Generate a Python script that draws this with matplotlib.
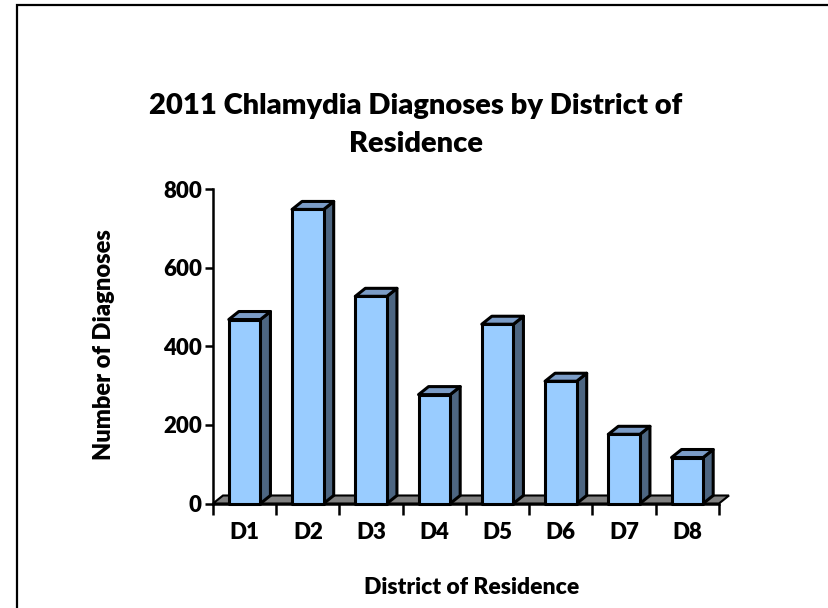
import matplotlib
matplotlib.use("Agg")
import matplotlib.pyplot as plt
from matplotlib.patches import Polygon, Rectangle

plt.rcParams["font.family"] = ["Lato", "DejaVu Sans"]
plt.rcParams["font.weight"] = "heavy"

districts = ["D1", "D2", "D3", "D4", "D5", "D6", "D7", "D8"]
diagnoses = [468, 748, 527, 277, 456, 311, 176, 117]
y_ticks = [0, 200, 400, 600, 800]

W, H = 829, 608
fig = plt.figure(figsize=(W / 100, H / 100), dpi=100)

# outer frame (cut off on right / bottom like the screenshot)
fig.patches.append(Rectangle((17 / W, -0.1), 1.2, 1 - 5 / H + 0.1,
                             transform=fig.transFigure, fill=False,
                             edgecolor="black", lw=1.6))

x0, x1, y0, y1 = 213, 719, 503.5, 189
ax = fig.add_axes([x0 / W, 1 - y0 / H, (x1 - x0) / W, (y0 - y1) / H])
n = len(districts)
ax.set_xlim(0, n)
ax.set_ylim(0, 800)

# depth of the fake 3d, in data units
dx = 10 / ((x1 - x0) / n)
dy = 8 / ((y0 - y1) / 800)

floor = Polygon([(0, 0), (n, 0), (n + dx, dy), (dx, dy)], closed=True,
                facecolor="#808080", edgecolor="black", lw=1.5,
                clip_on=False, zorder=1)
ax.add_patch(floor)

bw = 0.5
for i, v in enumerate(diagnoses):
    l = i + 0.5 - bw / 2
    r = l + bw
    side = Polygon([(r, 0), (r + dx, dy), (r + dx, v + dy), (r, v)],
                   facecolor="#4D6682", edgecolor="black", lw=2.2,
                   clip_on=False, zorder=2 + i, joinstyle="round")
    top = Polygon([(l, v), (r, v), (r + dx, v + dy), (l + dx, v + dy)],
                  facecolor="#7B9CC7", edgecolor="black", lw=2.2,
                  clip_on=False, zorder=2 + i, joinstyle="round")
    front = Rectangle((l, 0), bw, v, facecolor="#99CCFF",
                      edgecolor="black", lw=2.2, clip_on=False,
                      zorder=2 + i, joinstyle="round")
    ax.add_patch(side)
    ax.add_patch(top)
    ax.add_patch(front)

ax.patch.set_visible(False)
for s in ["top", "right"]:
    ax.spines[s].set_visible(False)
ax.spines["left"].set_linewidth(1.8)
ax.spines["bottom"].set_linewidth(1.8)
ax.spines["bottom"].set_zorder(20)

ax.set_yticks(y_ticks)
ax.set_xticks(range(n + 1))
ax.set_xticklabels([])
ax.set_xticks([i + 0.5 for i in range(n)], minor=True)
ax.set_xticklabels(districts, minor=True, fontsize=16, fontweight="heavy")
ax.tick_params(axis="x", which="major", length=8, width=1.8, direction="out")
ax.tick_params(axis="x", which="minor", length=0, pad=13)
ax.tick_params(axis="y", length=6, width=1.8, labelsize=16, pad=2)
for t in ax.get_yticklabels():
    t.set_fontweight("heavy")

fig.text(416 / W, 1 - 125 / H,
         "2011 Chlamydia Diagnoses by District of\nResidence",
         ha="center", va="center", fontsize=21, fontweight="heavy",
         linespacing=1.6)
fig.text(472 / W, 1 - 587 / H, "District of Residence", ha="center",
         va="center", fontsize=16.5, fontweight="heavy")
fig.text(104 / W, 1 - 345 / H, "Number of Diagnoses", ha="center",
         va="center", rotation=90, fontsize=17, fontweight="heavy")

fig.savefig("out.png", dpi=100)
